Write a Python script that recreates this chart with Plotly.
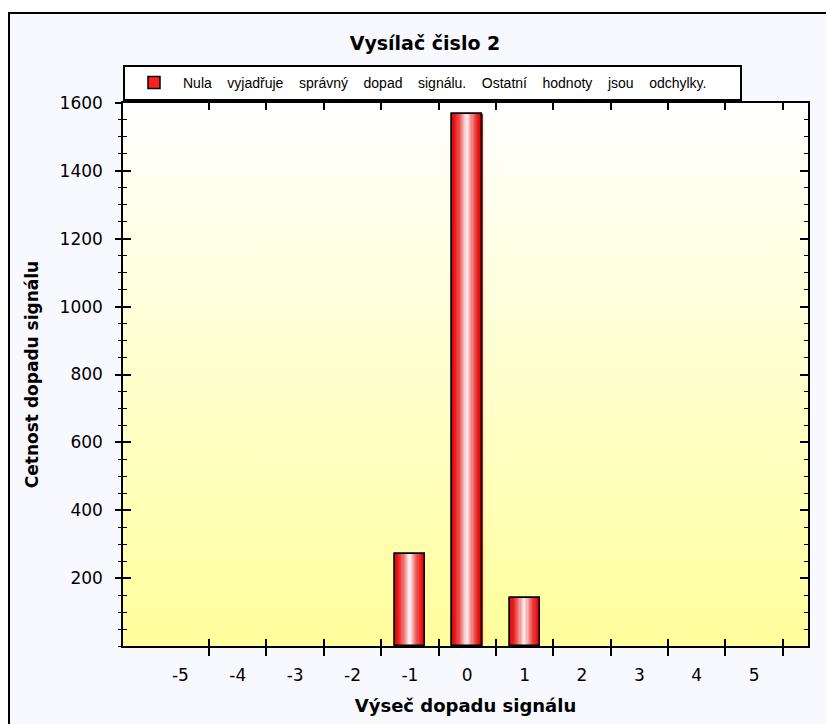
import base64
import plotly.graph_objects as go

# ---- data ----
categories = [-5, -4, -3, -2, -1, 0, 1, 2, 3, 4, 5]
counts = [0, 0, 0, 0, 271, 1567, 141, 0, 0, 0, 0]
y_ticks = [200, 400, 600, 800, 1000, 1200, 1400, 1600]
series_name = "Nula vyjadřuje správný dopad signálu. Ostatní hodnoty jsou odchylky."
title_text = "Vysílač čislo 2"
x_title = "Výseč dopadu signálu"
y_title = "Cetnost dopadu signálu"

# ---- layout constants ----
W, H = 826, 724
ML, MR, MT, MB = 123, 18, 103, 78
PW, PH = W - ML - MR, H - MT - MB
FONT = "DejaVu Sans"
BAR_W = 0.525

xs = [c for c, v in zip(categories, counts) if v > 0]
ys = [v for v in counts if v > 0]
boundaries = [c + 0.5 for c in categories]
x_range = [min(categories) - 1, max(categories) + 0.94]

# wide word gaps as in the reference legend
legend_label = ("\u00a0" * 3 + " ").join(series_name.split(" "))

fig = go.Figure()

# base bar (legend entry)
fig.add_trace(go.Bar(x=xs, y=ys, width=BAR_W, name=legend_label,
                     marker=dict(color="#FF2020", line=dict(color="black", width=1.5)),
                     hoverinfo="skip"))

# gradient bands (red -> white -> red)
N = 26
t0 = 0.5
for i in range(N):
    t = (i + 0.5) / N
    s = max(0.0, 1 - abs(t - t0) / 0.5)
    s = s ** 1.6
    r = int(230 + (255 - 230) * s)
    g = int(5 + (250 - 5) * s)
    b = int(5 + (250 - 5) * s)
    fig.add_trace(go.Bar(x=xs, y=ys, width=BAR_W / N * 1.04,
                         offset=-BAR_W / 2 + i * BAR_W / N,
                         marker=dict(color=f"rgb({r},{g},{b})", line=dict(width=0)),
                         showlegend=False, hoverinfo="skip"))

# outline on top
fig.add_trace(go.Bar(x=xs, y=ys, width=BAR_W,
                     marker=dict(color="rgba(0,0,0,0)", line=dict(color="black", width=1.5)),
                     showlegend=False, hoverinfo="skip"))

# empty helper traces so the overlay axes are drawn
fig.add_trace(go.Scatter(x=[], y=[], xaxis="x2", yaxis="y", showlegend=False, hoverinfo="skip"))
fig.add_trace(go.Scatter(x=[], y=[], xaxis="x3", yaxis="y", showlegend=False, hoverinfo="skip"))
fig.add_trace(go.Scatter(x=[], y=[], xaxis="x", yaxis="y2", showlegend=False, hoverinfo="skip"))

svg = ('<svg xmlns="http://www.w3.org/2000/svg" width="100" height="100" preserveAspectRatio="none">'
       '<defs><linearGradient id="g" x1="0" y1="0" x2="0" y2="1">'
       '<stop offset="0" stop-color="#FFFFFF"/><stop offset="1" stop-color="#FFFF9C"/>'
       '</linearGradient></defs><rect width="100" height="100" fill="url(#g)"/></svg>')
svg_uri = "data:image/svg+xml;base64," + base64.b64encode(svg.encode()).decode()

tickfont = dict(family=FONT, size=17, color="black")

fig.update_layout(
    width=W, height=H,
    margin=dict(l=ML, r=MR, t=MT, b=MB, autoexpand=False),
    paper_bgcolor="white",
    plot_bgcolor="rgba(0,0,0,0)",
    barmode="overlay",
    bargap=0,
    title=dict(text=title_text, x=425 / W, xref="container",
               y=1 - 43 / H, yref="container", xanchor="center", yanchor="middle",
               font=dict(family=FONT, size=19, color="black", weight="bold")),
    showlegend=True,
    legend=dict(orientation="h", x=0, xanchor="left", y=1 + (MT - 65) / PH, yanchor="top",
                bgcolor="white", bordercolor="black", borderwidth=2,
                entrywidth=552, entrywidthmode="pixels", itemwidth=48,
                font=dict(family="Liberation Sans", size=14, color="black"),
                itemclick=False, itemdoubleclick=False, tracegroupgap=0),
    xaxis=dict(range=x_range, tickvals=categories, ticktext=[str(c) for c in categories],
               ticks="", showline=True, linecolor="black", linewidth=1.5, mirror=True,
               showgrid=False, zeroline=False, tickfont=tickfont, ticklabelstandoff=13,
               title=dict(text=x_title, font=dict(family=FONT, size=18, color="black", weight="bold"),
                          standoff=15)),
    xaxis2=dict(overlaying="x", matches="x", anchor="y", side="bottom", range=x_range,
                tickvals=boundaries, ticks="outside", ticklen=9, tickwidth=1.5, tickcolor="black",
                showticklabels=False, showline=False, showgrid=False, zeroline=False),
    xaxis3=dict(overlaying="x", matches="x", anchor="y", side="bottom", range=x_range,
                tickvals=boundaries, ticks="inside", ticklen=7, tickwidth=1.5, tickcolor="black",
                mirror="ticks", showticklabels=False, showline=True, linecolor="black", linewidth=1.5,
                showgrid=False, zeroline=False),
    yaxis=dict(range=[0, 1600], tickvals=y_ticks, ticks="outside", ticklen=6, tickwidth=1.5,
               tickcolor="black", showline=True, linecolor="black", linewidth=1.5,
               showgrid=False, zeroline=False, tickfont=tickfont, ticklabelstandoff=9,
               minor=dict(dtick=50, ticks="outside", ticklen=3, tickwidth=1.2, tickcolor="black",
                          showgrid=False),
               title=dict(text=y_title, font=dict(family=FONT, size=17, color="black", weight="bold"),
                          standoff=17)),
    yaxis2=dict(overlaying="y", matches="y", anchor="x", side="left", range=[0, 1600],
                tickvals=[0] + y_ticks, ticks="inside", ticklen=8, tickwidth=1.5, tickcolor="black",
                mirror="ticks", showticklabels=False, showline=True, linecolor="black", linewidth=1.5,
                showgrid=False, zeroline=False,
                minor=dict(dtick=50, ticks="inside", ticklen=4, tickwidth=1.2, tickcolor="black",
                           showgrid=False)),
    shapes=[dict(type="rect", xref="paper", yref="paper", layer="below",
                 x0=(9 - ML) / PW, x1=1.3, y0=-0.3, y1=1 + (MT - 13) / PH,
                 fillcolor="#F8F8FF", line=dict(color="black", width=2))],
    images=[dict(source=svg_uri, xref="x domain", yref="y domain", x=0, y=1,
                 sizex=1, sizey=1, xanchor="left", yanchor="top",
                 sizing="stretch", layer="below")],
)

fig.write_html("out.html")
